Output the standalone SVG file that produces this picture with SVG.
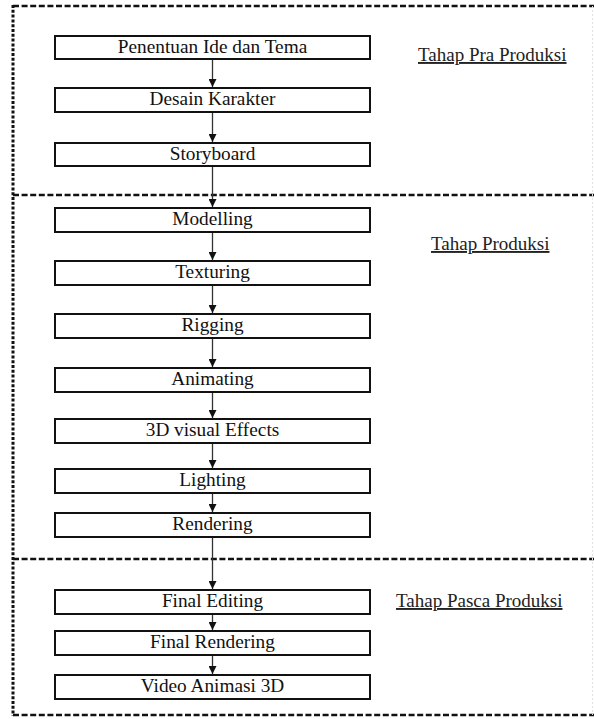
<svg xmlns="http://www.w3.org/2000/svg" width="594" height="719" viewBox="0 0 594 719">
<style>
.box{fill:#fff;stroke:#111;stroke-width:2}
.t{font-family:"Liberation Serif","Times New Roman",serif;font-size:19.3px;fill:#111;text-anchor:middle}
.lbl{font-family:"Liberation Serif","Times New Roman",serif;font-size:19px;fill:#222;text-decoration:underline}
.dash{stroke:#111;stroke-width:2.6;stroke-dasharray:6 2.6;fill:none}
.dot{stroke:#111;stroke-width:3;stroke-dasharray:3 1.8;fill:none}
.faint{stroke:#e2e2e2;stroke-width:1;stroke-dasharray:2 2;fill:none}
.arr{stroke:#333;stroke-width:1.3;fill:none;marker-end:url(#ah)}
</style>
<defs>
<marker id="ah" viewBox="0 0 8 8" refX="8" refY="4" markerWidth="8" markerHeight="8" markerUnits="userSpaceOnUse" orient="auto">
<path d="M0,0 L8,4 L0,8 z" fill="#111"/>
</marker>
</defs>
<rect width="594" height="719" fill="#fff"/>
<g id="frame">
<line class="dash" x1="13" y1="6" x2="594" y2="6"/>
<line class="dash" x1="13" y1="195" x2="594" y2="195"/>
<line class="dash" x1="13" y1="559" x2="594" y2="559"/>
<line class="dash" x1="13" y1="715" x2="594" y2="715"/>
<line class="dot" x1="13" y1="5" x2="13" y2="716"/>
<line class="faint" x1="592.5" y1="6" x2="592.5" y2="715"/>
</g>
<g id="connectors">
<line class="arr" x1="212.5" y1="60" x2="212.5" y2="87"/>
<line class="arr" x1="212.5" y1="113" x2="212.5" y2="142"/>
<line class="arr" x1="212.5" y1="167" x2="212.5" y2="207"/>
<line class="arr" x1="212.5" y1="233" x2="212.5" y2="260"/>
<line class="arr" x1="212.5" y1="286" x2="212.5" y2="313"/>
<line class="arr" x1="212.5" y1="339" x2="212.5" y2="367"/>
<line class="arr" x1="212.5" y1="393" x2="212.5" y2="418"/>
<line class="arr" x1="212.5" y1="444" x2="212.5" y2="468"/>
<line class="arr" x1="212.5" y1="494" x2="212.5" y2="512"/>
<line class="arr" x1="212.5" y1="538" x2="212.5" y2="589"/>
<line class="arr" x1="212.5" y1="615" x2="212.5" y2="630"/>
<line class="arr" x1="212.5" y1="656" x2="212.5" y2="674"/>
</g>
<g id="n1"><rect class="box" x="55" y="36" width="315" height="23"/><text class="t" x="212.5" y="53">Penentuan Ide dan Tema</text></g>
<g id="n2"><rect class="box" x="55" y="88" width="315" height="24"/><text class="t" x="212.5" y="105">Desain Karakter</text></g>
<g id="n3"><rect class="box" x="55" y="143" width="315" height="23"/><text class="t" x="212.5" y="160">Storyboard</text></g>
<g id="n4"><rect class="box" x="55" y="208" width="315" height="24"/><text class="t" x="212.5" y="225">Modelling</text></g>
<g id="n5"><rect class="box" x="55" y="261" width="315" height="24"/><text class="t" x="212.5" y="278">Texturing</text></g>
<g id="n6"><rect class="box" x="55" y="314" width="315" height="24"/><text class="t" x="212.5" y="331">Rigging</text></g>
<g id="n7"><rect class="box" x="55" y="368" width="315" height="24"/><text class="t" x="212.5" y="385">Animating</text></g>
<g id="n8"><rect class="box" x="55" y="419" width="315" height="24"/><text class="t" x="212.5" y="436">3D visual Effects</text></g>
<g id="n9"><rect class="box" x="55" y="469" width="315" height="24"/><text class="t" x="212.5" y="486">Lighting</text></g>
<g id="n10"><rect class="box" x="55" y="513" width="315" height="24"/><text class="t" x="212.5" y="530">Rendering</text></g>
<g id="n11"><rect class="box" x="55" y="590" width="315" height="24"/><text class="t" x="212.5" y="607">Final Editing</text></g>
<g id="n12"><rect class="box" x="55" y="631" width="315" height="24"/><text class="t" x="212.5" y="648">Final Rendering</text></g>
<g id="n13"><rect class="box" x="55" y="675" width="315" height="24"/><text class="t" x="212.5" y="692">Video Animasi 3D</text></g>
<g id="labels">
<text class="lbl" x="418" y="61">Tahap Pra Produksi</text>
<text class="lbl" x="431" y="250">Tahap Produksi</text>
<text class="lbl" x="396" y="607">Tahap Pasca Produksi</text>
</g>
</svg>
